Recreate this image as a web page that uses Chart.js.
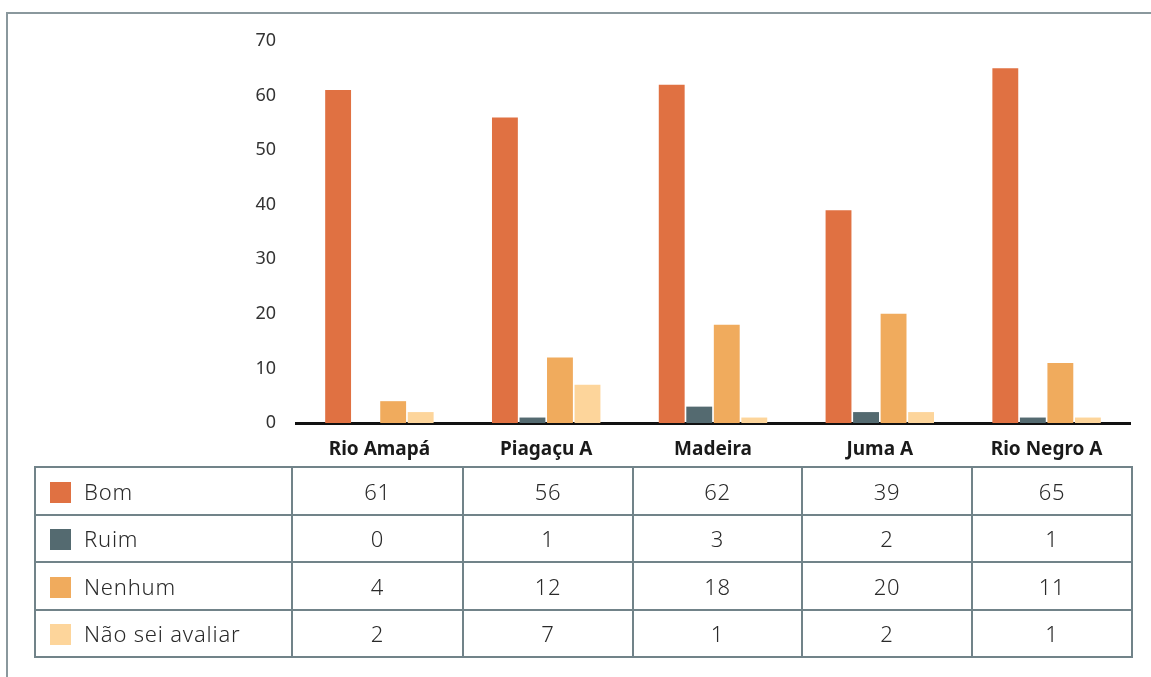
<!DOCTYPE html>
<html>
<head>
  <meta charset="utf-8">
  <title>Avaliação por comunidade</title>
  <script src="https://cdn.jsdelivr.net/npm/chart.js"></script>
  <style>
    html, body {
      margin: 0;
      padding: 0;
      background: white;
      font-family: 'Noto Sans', 'Open Sans', sans-serif;
    }
    .frame {
      position: relative;
      width: 1151px;
      height: 677px;
      overflow: hidden;
    }
    .frame:before {
      content: '';
      position: absolute;
      left: 6px;
      top: 12px;
      right: 0;
      bottom: 0;
      border-top: 2px solid #8a989d;
      border-left: 2px solid #8a989d;
    }
    canvas {
      position: absolute;
      left: 0;
      top: 0;
    }
    table {
      position: absolute;
      left: 34px;
      top: 466px;
      border-collapse: collapse;
      table-layout: fixed;
      color: #2a2a2a;
      font-size: 22px;
      font-weight: 300;
      letter-spacing: 0.8px;
    }
    td {
      border: 2px solid #718389;
      height: 45.5px;
      padding: 0;
      text-align: center;
    }
    td.name {
      text-align: left;
      padding-left: 14px;
    }
    .sw {
      display: inline-block;
      width: 21px;
      height: 21px;
      margin-right: 13px;
      vertical-align: -3px;
    }
  </style>
</head>
<body>

<div class="frame">
  <canvas id="chart" width="1151" height="677"></canvas>
  <table id="dataTable"></table>
</div>

<script>
  const categories = ['Rio Amapá', 'Piagaçu A', 'Madeira', 'Juma A', 'Rio Negro A'];
  const seriesNames = ['Bom', 'Ruim', 'Nenhum', 'Não sei avaliar'];
  const bom = [61, 56, 62, 39, 65];
  const ruim = [0, 1, 3, 2, 1];
  const nenhum = [4, 12, 18, 20, 11];
  const naoSei = [2, 7, 1, 2, 1];
  const colors = ['#e07142', '#546a70', '#f0ab5d', '#fdd59b'];
  const yTicks = [0, 10, 20, 30, 40, 50, 60, 70];

  const values = [bom, ruim, nenhum, naoSei];
  const colWidths = [257, 171, 170, 169, 170, 160];

  // tabela de dados por baixo do gráfico
  const table = document.getElementById('dataTable');
  const cg = document.createElement('colgroup');
  colWidths.forEach(w => {
    const c = document.createElement('col');
    c.style.width = w + 'px';
    cg.appendChild(c);
  });
  table.appendChild(cg);
  seriesNames.forEach((name, i) => {
    const tr = document.createElement('tr');
    const th = document.createElement('td');
    th.className = 'name';
    th.innerHTML = '<span class="sw" style="background:' + colors[i] + '"></span>' + name;
    tr.appendChild(th);
    values[i].forEach(v => {
      const td = document.createElement('td');
      td.textContent = v;
      tr.appendChild(td);
    });
    table.appendChild(tr);
  });

  const ctx = document.getElementById('chart').getContext('2d');
  new Chart(ctx, {
    type: 'bar',
    data: {
      labels: categories,
      datasets: seriesNames.map((name, i) => ({
        label: name,
        data: values[i],
        backgroundColor: colors[i],
        barPercentage: 0.94,
        categoryPercentage: 0.66
      }))
    },
    options: {
      responsive: false,
      animation: false,
      layout: {
        padding: { top: 41, right: 21, bottom: 214, left: 0 }
      },
      plugins: {
        legend: { display: false },
        tooltip: { enabled: false }
      },
      scales: {
        x: {
          grid: { display: false },
          border: { display: true, color: '#111', width: 3 },
          ticks: {
            color: '#1a1a1a',
            padding: 7,
            font: { family: "'Noto Sans', sans-serif", size: 19, weight: 'bold' }
          },
          afterFit: s => { s.height = 40; }
        },
        y: {
          min: 0,
          max: 70,
          grid: { display: false, drawTicks: false },
          border: { display: false },
          afterBuildTicks: s => { s.ticks = yTicks.map(v => ({ value: v })); },
          ticks: {
            color: '#333',
            padding: 20,
            font: { family: "'Noto Sans', sans-serif", size: 18 }
          },
          afterFit: s => { s.width = 296; }
        }
      }
    }
  });
</script>

</body>
</html>
